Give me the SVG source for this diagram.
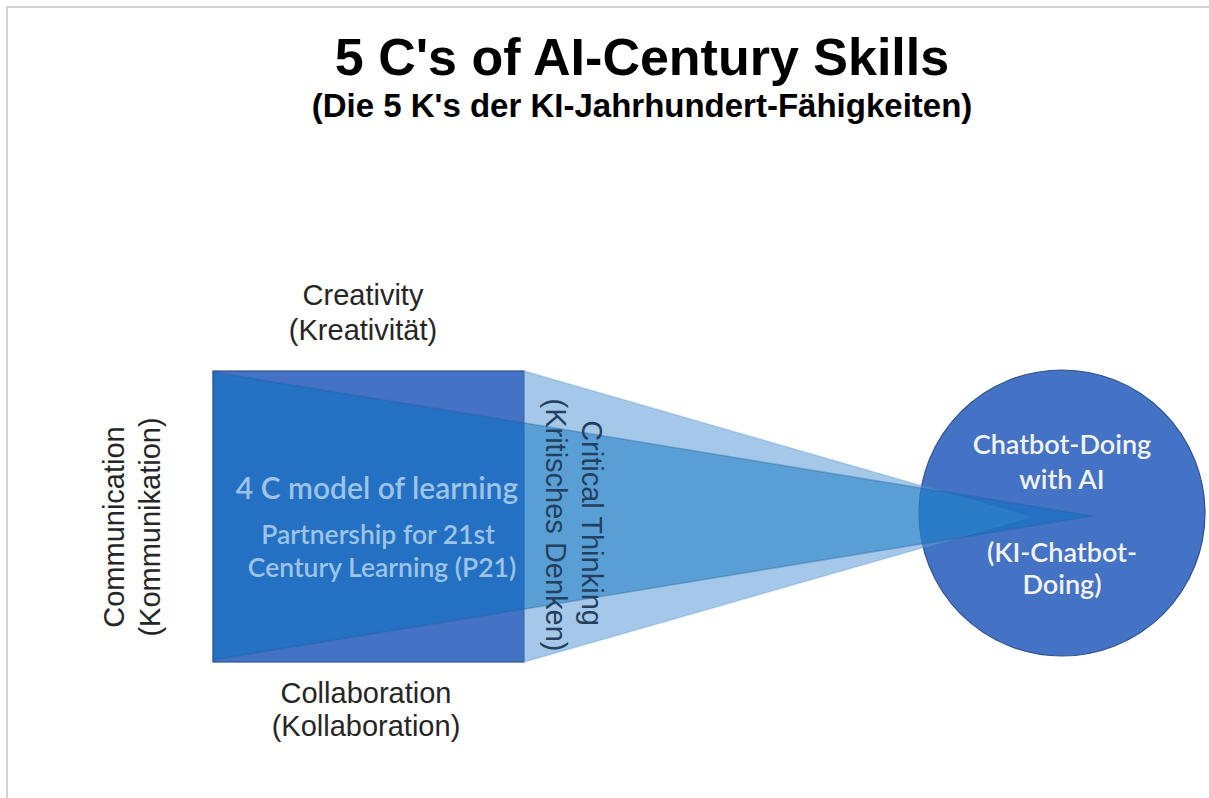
<svg xmlns="http://www.w3.org/2000/svg" width="1209" height="798" viewBox="0 0 1209 798">
  <style>
    .title { font-family: "Liberation Sans", Arial, sans-serif; font-weight: bold; fill: #000; text-anchor: middle; }
    .label { font-family: "Liberation Sans", Arial, sans-serif; font-size: 29px; fill: #262626; text-anchor: middle; }
    .inner { font-family: Lato, "Open Sans", sans-serif; font-weight: 600; fill: #9dc3e6; text-anchor: middle; }
    .circ { font-family: Lato, "Open Sans", sans-serif; font-weight: 600; font-size: 27px; fill: #f2f2f2; text-anchor: middle; }
    .shape { fill: #4472c4; stroke: #2f528f; stroke-width: 1.2; }
    .fan-light { fill: #5b9bd5; fill-opacity: 0.55; stroke: #5b9bd5; stroke-opacity: 0.35; stroke-width: 1.5; }
    .fan-mid { fill: #0070c0; fill-opacity: 0.46; stroke: #1f5f9f; stroke-opacity: 0.35; stroke-width: 1.5; }
    .vert { fill: #23405e; }
  </style>

  <rect width="1209" height="798" fill="#fff"/>
  <!-- page frame -->
  <path d="M7 798 V7 H1209" fill="none" stroke="#d2d2d2" stroke-width="2"/>

  <!-- heading -->
  <text class="title" x="642" y="75" font-size="52">5 C's of AI-Century Skills</text>
  <text class="title" x="642" y="117" font-size="33">(Die 5 K's der KI-Jahrhundert-Fähigkeiten)</text>

  <!-- 4C square -->
  <g id="model-4c">
    <rect class="shape" x="213" y="371" width="311" height="291"/>
  </g>

  <!-- target circle -->
  <g id="chatbot-doing">
    <circle class="shape" cx="1062" cy="513" r="143"/>
  </g>

  <!-- funnel converging on the circle -->
  <g id="connectors">
    <polygon class="fan-light" points="524,371 524,662 1030,517"/>
    <polygon class="fan-mid" points="213,372 213,660 1092,516"/>
  </g>

  <!-- skill labels -->
  <g id="creativity">
    <text class="label" x="363" y="305">Creativity</text>
    <text class="label" x="363" y="340">(Kreativität)</text>
  </g>
  <g id="collaboration">
    <text class="label" x="366" y="703">Collaboration</text>
    <text class="label" x="366" y="736">(Kollaboration)</text>
  </g>
  <g id="communication">
    <text class="label" transform="translate(124 527) rotate(-90)">Communication</text>
    <text class="label" transform="translate(160 527) rotate(-90)">(Kommunikation)</text>
  </g>
  <g id="critical-thinking">
    <text class="label vert" transform="translate(582 523) rotate(90)">Critical Thinking</text>
    <text class="label vert" transform="translate(546 525) rotate(90)">(Kritisches Denken)</text>
  </g>

  <!-- square caption -->
  <g id="model-4c-text">
    <text class="inner" x="377" y="499" font-size="30">4 C model of learning</text>
    <text class="inner" x="378" y="544" font-size="26.5">Partnership for 21st</text>
    <text class="inner" x="382" y="577" font-size="26.5">Century Learning (P21)</text>
  </g>

  <!-- circle caption -->
  <g id="chatbot-doing-text">
    <text class="circ" x="1062" y="454">Chatbot-Doing</text>
    <text class="circ" x="1062" y="489">with AI</text>
    <text class="circ" x="1062" y="562">(KI-Chatbot-</text>
    <text class="circ" x="1062" y="594">Doing)</text>
  </g>
</svg>
